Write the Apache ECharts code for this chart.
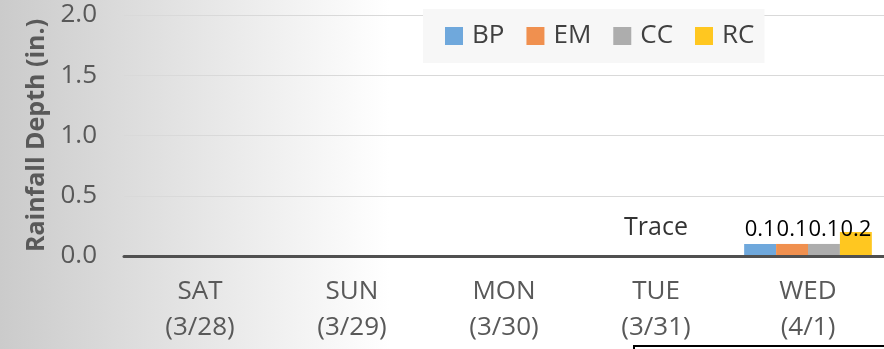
<!DOCTYPE html>
<html>
<head>
<meta charset="utf-8">
<script src="https://cdn.jsdelivr.net/npm/echarts@6.0.0/dist/echarts.min.js"></script>
<style>
  html, body { margin: 0; padding: 0; }
  #chart { width: 884px; height: 349px; }
</style>
</head>
<body>
<div id="chart"></div>
<script>
// 数据
var days = ['SAT\n(3/28)', 'SUN\n(3/29)', 'MON\n(3/30)', 'TUE\n(3/31)', 'WED\n(4/1)'];
var notes = ['', '', '', 'Trace', ''];
var bp = [0, 0, 0, 0, 0.1];
var em = [0, 0, 0, 0, 0.1];
var cc = [0, 0, 0, 0, 0.1];
var rc = [0, 0, 0, 0, 0.2];
var yTicks = [0, 0.5, 1.0, 1.5, 2.0];

var font = '"Open Sans", "Noto Sans", sans-serif';

function barLabel(offsetY) {
    return {
        show: true,
        position: 'top',
        distance: 3,
        offset: [0, offsetY],
        color: '#000',
        fontFamily: font,
        fontSize: 22,
        lineHeight: 22,
        formatter: function (p) { return p.value > 0 ? p.value.toFixed(1) : ''; }
    };
}

function makeSerie(name, color, values, offsetY) {
    return {
        name: name,
        type: 'bar',
        data: values,
        barGap: '0%',
        barCategoryGap: '16%',
        itemStyle: { color: color },
        label: barLabel(offsetY)
    };
}

var series = [
    makeSerie('BP', '#6FA8DC', bp, 0),
    makeSerie('EM', '#F0904F', em, 0),
    makeSerie('CC', '#ADADAD', cc, 0),
    makeSerie('RC', '#FFC720', rc, 12)
];

// "Trace" 注释，放在类目中心
series.push({
    name: 'note',
    type: 'scatter',
    symbolSize: 0,
    silent: true,
    z: 5,
    data: notes.map(function (n) { return n ? 0 : null; }),
    label: {
        show: true,
        position: 'inside',
        offset: [0, -28],
        color: '#000',
        fontFamily: font,
        fontSize: 25,
        formatter: function (p) { return notes[p.dataIndex]; }
    }
});

var option = {
    animation: false,
    backgroundColor: {
        type: 'linear', x: 0, y: 0, x2: 1, y2: 0,
        colorStops: [
            { offset: 0, color: '#cbcbcb' },
            { offset: 0.44, color: '#ffffff' },
            { offset: 1, color: '#ffffff' }
        ]
    },
    legend: {
        left: 423,
        top: 9,
        icon: 'rect',
        itemWidth: 18,
        itemHeight: 18,
        itemGap: 22,
        padding: [12, 10, 12, 22],
        backgroundColor: '#f7f7f7',
        textStyle: {
            color: '#404040',
            fontFamily: font,
            fontSize: 26,
            lineHeight: 30,
            padding: [0, 0, 0, 4]
        },
        data: ['BP', 'EM', 'CC', 'RC']
    },
    grid: {
        left: 124,
        width: 766,
        top: 15,
        bottom: 93,
        containLabel: false
    },
    xAxis: {
        type: 'category',
        data: days,
        z: 10,
        axisLine: { show: true, lineStyle: { color: '#505050', width: 3 } },
        axisTick: { show: false },
        axisLabel: {
            color: '#595959',
            fontFamily: font,
            fontSize: 26,
            lineHeight: 36,
            margin: 18,
            interval: 0
        }
    },
    yAxis: {
        type: 'value',
        min: yTicks[0],
        max: yTicks[yTicks.length - 1],
        interval: 0.5,
        name: 'Rainfall Depth (in.)',
        nameLocation: 'middle',
        nameRotate: 90,
        nameGap: 74,
        nameTextStyle: {
            color: '#595959',
            fontFamily: font,
            fontWeight: 'bold',
            fontSize: 25
        },
        axisLine: { show: false },
        axisTick: { show: false },
        axisLabel: {
            color: '#595959',
            fontFamily: font,
            fontSize: 26,
            margin: 27,
            formatter: function (v) { return v.toFixed(1); }
        },
        splitLine: { lineStyle: { color: '#d9d9d9', width: 1 } }
    },
    // 图下方文档里的框线
    graphic: [{
        type: 'polyline',
        silent: true,
        shape: { points: [[634, 349], [634, 346], [884, 346]] },
        style: { stroke: '#000', lineWidth: 2, fill: null }
    }],
    series: series
};

var myChart = echarts.init(document.getElementById('chart'));
myChart.setOption(option);
</script>
</body>
</html>
